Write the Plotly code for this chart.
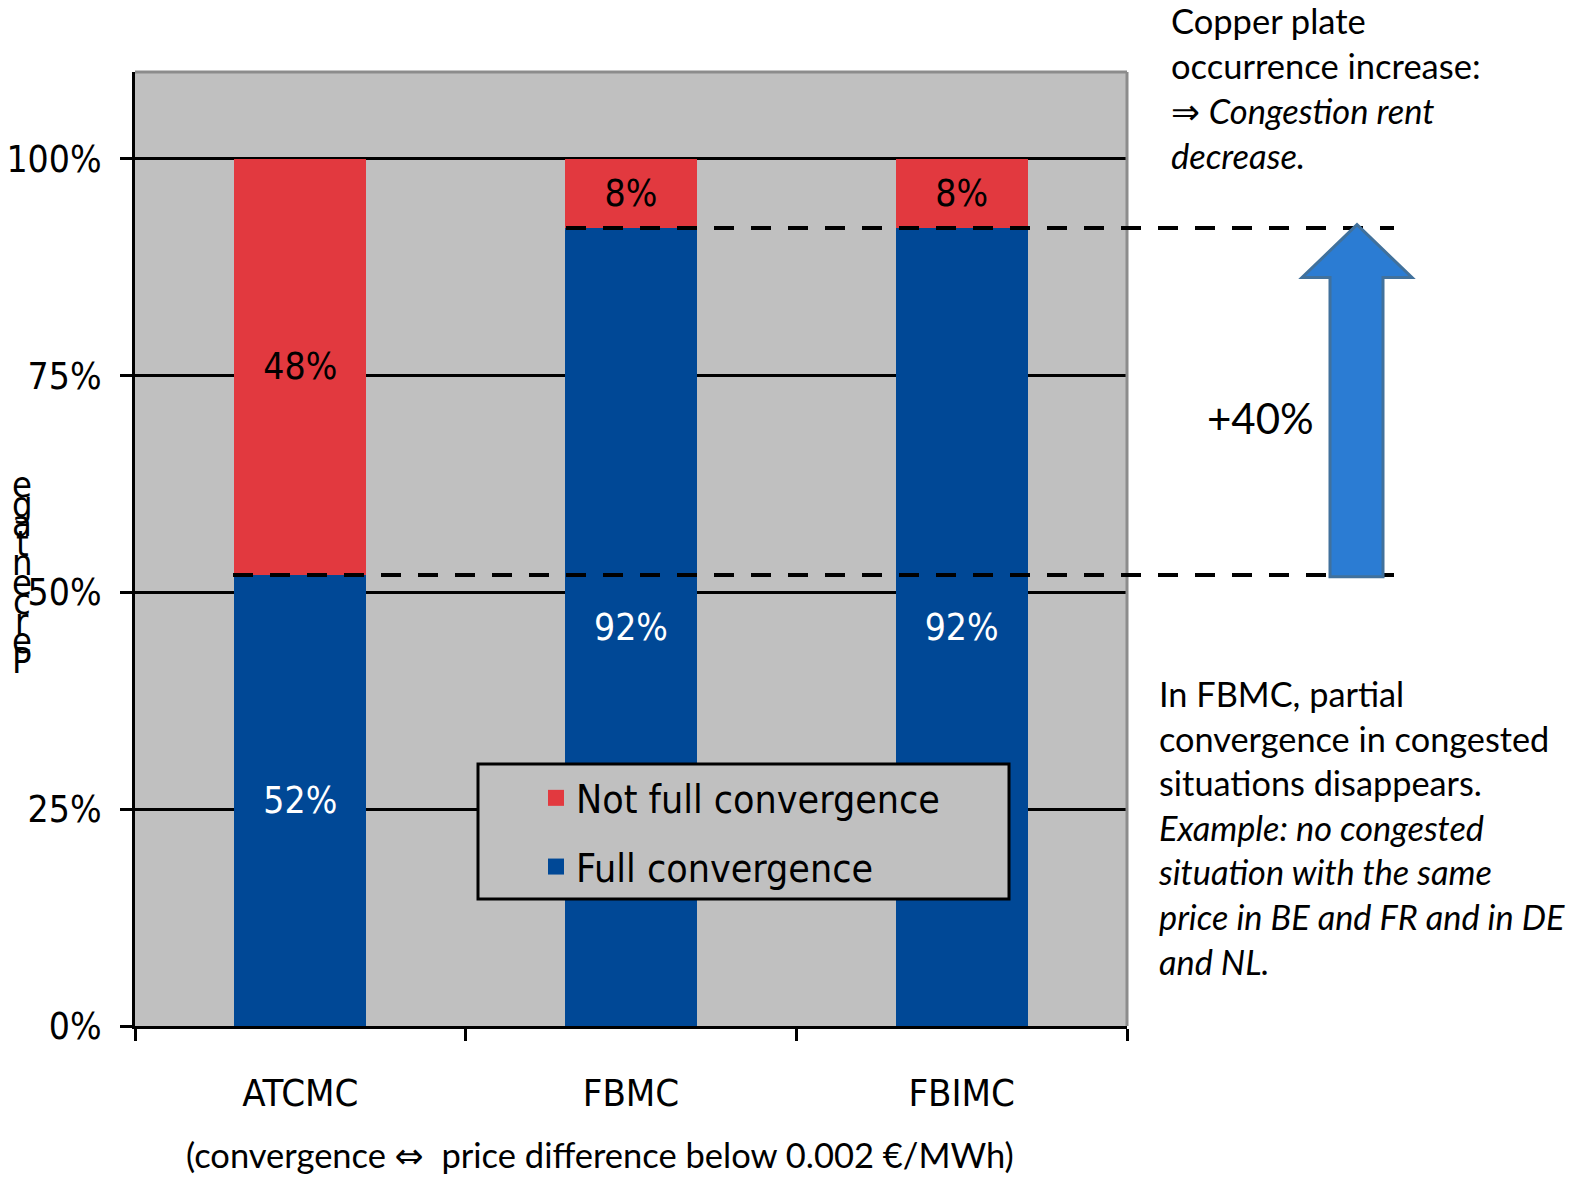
import plotly.graph_objects as go

categories = ["ATCMC", "FBMC", "FBIMC"]
full_conv = [52, 92, 92]
not_full_conv = [48, 8, 8]
y_ticks = [0, 25, 50, 75, 100]
y_tick_labels = ["0%", "25%", "50%", "75%", "100%"]
ylabel = "Percentage"

NARROW = "Liberation Sans Narrow, DejaVu Sans Condensed, Liberation Sans, sans-serif"
BODY = "Lato, Open Sans, sans-serif"
SYM = '<span style="font-family:DejaVu Sans">'
RED = "#E2393F"
BLUE = "#004896"
GREY = "#C0C0C0"
FS = 37

fig = go.Figure()
fig.add_trace(go.Bar(
    x=categories, y=full_conv, name="Full convergence",
    marker=dict(color=BLUE, line=dict(width=0)),
    text=[f"{v}%" for v in full_conv], textposition="inside",
    insidetextanchor="middle", textangle=0,
    textfont=dict(family=NARROW, size=FS, color="white"),
    showlegend=False,
))
fig.add_trace(go.Bar(
    x=categories, y=not_full_conv, name="Not full convergence",
    marker=dict(color=RED, line=dict(width=0)),
    text=[f"{v}%" for v in not_full_conv], textposition="inside",
    insidetextanchor="middle", textangle=0,
    textfont=dict(family=NARROW, size=FS, color="black"),
    showlegend=False,
))
# legend-only entries with larger square swatches
fig.add_trace(go.Scatter(x=[None], y=[None], mode="markers", name="Not full convergence",
                         marker=dict(symbol="square", size=16, color=RED),
                         legendgroup="a", legendrank=1))
fig.add_trace(go.Scatter(x=[None], y=[None], mode="markers", name="Full convergence",
                         marker=dict(symbol="square", size=16, color=BLUE),
                         legendgroup="b", legendrank=2))

W, H = 1590, 1177
L, R, T, B = 135, 463, 72, 151

def px_x(p):
    return (p - L) / (W - L - R)

def px_y(p):
    return (H - B - p) / (H - T - B)

fig.update_layout(
    width=W, height=H,
    margin=dict(l=L, r=R, t=T, b=B, autoexpand=False),
    paper_bgcolor="white", plot_bgcolor=GREY,
    barmode="stack", bargap=0.6,
    showlegend=True,
    legend=dict(
        x=px_x(536), y=px_y(766), xanchor="left", yanchor="top",
        bgcolor="rgba(0,0,0,0)", borderwidth=0,
        font=dict(family=NARROW, size=FS + 2, color="black"),
        traceorder="grouped", tracegroupgap=15, itemwidth=30,
    ),
)
fig.update_xaxes(
    type="category", range=[-0.5, 2.5], automargin=False,
    showgrid=False, showline=True, linecolor="black", linewidth=3,
    ticks="outside", tickson="boundaries", ticklen=12, tickwidth=3, tickcolor="black",
    tickfont=dict(family=NARROW, size=FS + 1, color="black"),
    ticklabelstandoff=31,
)
fig.update_yaxes(
    range=[0, 110], tickvals=y_ticks, ticktext=y_tick_labels, automargin=False,
    showgrid=True, gridcolor="black", gridwidth=3, zeroline=False,
    showline=True, linecolor="black", linewidth=3,
    ticks="outside", ticklen=12, tickwidth=3, tickcolor="black",
    tickfont=dict(family=NARROW, size=FS, color="black"),
    ticklabelstandoff=11,
)

# grey top/right border of plot area
fig.add_shape(type="line", xref="paper", yref="paper", x0=0, x1=1, y0=1, y1=1,
              line=dict(color="#8C8C8C", width=3), layer="above")
fig.add_shape(type="line", xref="paper", yref="paper", x0=1, x1=1, y0=0, y1=1,
              line=dict(color="#8C8C8C", width=3), layer="above")

# dashed reference lines
fig.add_shape(type="line", xref="paper", yref="y", x0=px_x(566), x1=px_x(1394),
              y0=full_conv[1], y1=full_conv[1],
              line=dict(color="black", width=4, dash="20px,17px"), layer="above")
fig.add_shape(type="line", xref="paper", yref="y", x0=px_x(233), x1=px_x(1394),
              y0=full_conv[0], y1=full_conv[0],
              line=dict(color="black", width=4, dash="20px,17px"), layer="above")

# legend box
fig.add_shape(type="rect", xref="paper", yref="paper",
              x0=px_x(478), x1=px_x(1009), y0=px_y(899), y1=px_y(764),
              fillcolor=GREY, line=dict(color="black", width=3), layer="above")

# up arrow
sl, sr, hl, hr, tip = px_x(1330), px_x(1383), px_x(1302), px_x(1412), px_x(1357)
yb, yh, yt = 51.8, 86.3, 92.4
path = (f"M {sl},{yb} L {sl},{yh} L {hl},{yh} L {tip},{yt} L {hr},{yh} "
        f"L {sr},{yh} L {sr},{yb} Z")
fig.add_shape(type="path", xref="paper", yref="y", path=path,
              fillcolor="#2B7CD3", line=dict(color="#41719C", width=3), layer="above")

fig.add_annotation(xref="paper", yref="paper", x=px_x(1260), y=px_y(418),
                   xanchor="center", yanchor="middle",
                   text="+40%", showarrow=False,
                   font=dict(family=BODY, size=42, color="black"))

fig.add_annotation(xref="paper", yref="paper", x=px_x(1169), y=px_y(-2),
                   xanchor="left", yanchor="top", align="left", showarrow=False,
                   text=f"Copper plate<br>occurrence increase:<br>{SYM}⇒</span> <i>Congestion rent<br>decrease.</i>",
                   font=dict(family=BODY, size=34.5, color="black"))

fig.add_annotation(xref="paper", yref="paper", x=px_x(1156), y=px_y(671),
                   xanchor="left", yanchor="top", align="left", showarrow=False,
                   text=("In FBMC, partial<br>convergence in congested<br>situations disappears.<br>"
                         "<i>Example: no congested<br>situation with the same<br>"
                         "price in BE and FR and in DE<br>and NL.</i>"),
                   font=dict(family=BODY, size=34.3, color="black"))

fig.add_annotation(xref="paper", yref="paper", x=px_x(600), y=px_y(1155),
                   xanchor="center", yanchor="middle",
                   text=f"(convergence {SYM}⇔</span>  price difference below 0.002 €/MWh)",
                   showarrow=False,
                   font=dict(family=BODY, size=34.5, color="black"))

# stacked upright y-axis label letters (bottom to top)
for i, ch in enumerate(ylabel):
    fig.add_annotation(xref="paper", yref="paper", x=px_x(22), y=px_y(660 - i * 19.5),
                       xanchor="center", yanchor="middle",
                       text=ch, showarrow=False,
                       font=dict(family=NARROW, size=36, color="black"))

fig.write_html("out.html")
